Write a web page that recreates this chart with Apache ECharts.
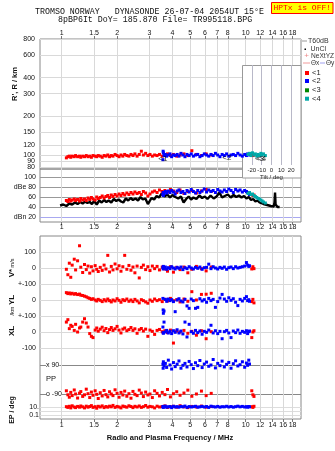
<!DOCTYPE html>
<html><head><meta charset="utf-8">
<script src="https://cdn.jsdelivr.net/npm/echarts@6/dist/echarts.min.js"></script>
<style>html,body{margin:0;padding:0;background:#fff}#c{width:335px;height:451px}</style>
</head><body><div id="c"></div>
<script>
// ---------- tick labels ----------
const freqTicks = [1,1.5,2,3,4,5,6,7,8,10,12,14,16,18];
const freqTickLabels = ['1','1.5','2','3','4','5','6','7','8','10','12','14','16','18'];
const rangeTicks = [80,90,100,120,150,200,300,400,600,800];
const rangeTickLabels = ['80','90','100','120','150','200','300','400','600','800'];
const ampTicks = [20,40,60,80,100];
const ampTickLabels = ['dBn 20','40','60','dBe 80','100'];
const vTicks = [-100,0,100];
const vTickLabels = ['+-100','0','100'];
const ylTickLabels = ['+-100','0',''];
const xlTickLabels = ['-100','0',''];
const ppTicks = [-90,90];
const ppTickLabels = ['o -90','x 90'];
const epTicks = [0.1,1,10];
const epTickLabels = ['0.1','','10.'];
const tiltTicks = [-20,-10,0,10,20];

// ---------- echo class <1 (red) ----------
const fRed = [1.06,1.08,1.10,1.12,1.14,1.17,1.19,1.22,1.25,1.27,1.30,1.33,1.36,1.39,1.42,1.45,1.48,1.52,1.55,1.58,1.62,1.66,1.70,1.74,1.78,1.82,1.86,1.90,1.95,2.00,2.05,2.10,2.15,2.20,2.26,2.32,2.38,2.44,2.50,2.57,2.64,2.71,2.78,2.86,2.94,3.02,3.11,3.20,3.30,3.40,3.52,3.64,3.76,3.90,4.05,4.22,4.40,4.62,4.85,5.10,5.40,5.75,6.10,6.50,10.8,10.95,11.1];
const rRed = [95,97,98,96,98,97,99,97,98,96,98,97,99,97,98,96,99,98,97,99,98,96,99,98,100,97,99,98,101,99,97,100,98,101,99,98,101,99,102,98,101,107,100,103,99,101,98,100,99,101,98,100,102,99,101,98,100,102,99,108,101,99,102,100,101,99,100];
const aRed = [54,52,56,53,55,57,54,56,53,58,55,57,54,59,56,60,57,55,61,58,60,63,59,62,64,60,65,62,66,63,67,64,68,65,69,66,70,67,71,68,70,66,72,69,63,67,71,73,70,75,72,74,71,76,73,70,75,68,72,74,69,73,76,72,66,64,65];
const vRed = [-8,-42,30,-58,18,55,-12,45,139,5,-28,22,-10,12,-32,8,-18,15,-8,-22,4,-15,18,-6,79,-25,10,-12,25,-5,14,-20,8,79,-8,16,-14,6,-30,12,-62,4,18,-10,8,-16,12,-4,10,-12,6,-6,-20,8,-26,4,-10,6,-30,-8,10,-4,-18,6,-6,8,-4];
const ylRed = [46,40,44,38,42,36,40,34,37,30,28,24,20,14,10,4,8,0,-6,4,-2,-10,2,-6,6,-4,-12,0,-6,8,-2,-14,2,-4,6,-8,0,-10,4,-6,-18,2,-4,-12,-20,0,-8,6,-4,2,-10,4,-6,10,-4,2,-12,6,-8,52,0,35,36,42,-10,4,-18];
const xlRed = [62,77,21,42,35,10,48,0,25,31,62,83,56,31,-10,-27,-35,12,25,5,18,30,8,22,-4,15,28,10,20,35,12,-6,18,25,8,15,28,10,20,-8,14,22,6,18,-27,12,4,-15,10,16,2,8,-4,12,-69,6,0,10,-8,4,-20,8,-42,2,-35,0,8];
const ppRed = [-70,-95,-110,-80,-100,-65,-90,-115,-85,-75,-105,-95,-60,-88,-112,-78,-98,-70,-92,-118,-82,-102,-68,-94,-108,-76,-90,-100,-64,-86,-110,-80,-96,-72,-104,-88,-116,-74,-92,-100,-66,-84,-106,-78,-96,-90,-112,-70,-86,-102,-80,-94,-62,-108,-88,-76,-98,-84,-66,-104,-90,-72,-100,-86,-70,-95,-105];
const epRed = [12,8,15,6,20,10,7,14,9,18,11,6,16,9,13,22,8,12,5,15,10,19,7,13,9,16,11,25,8,14,10,6,17,12,9,20,13,7,15,10,18,8,12,24,9,14,11,6,16,10,13,19,8,12,15,9,21,11,7,14,10,17,9,13,12,8,15];

// ---------- echo class <2 (blue) ----------
const fBlue = [3.55,3.56,3.57,3.60,3.66,3.72,3.80,3.88,3.96,4.05,4.14,4.24,4.34,4.45,4.56,4.68,4.80,4.93,5.06,5.20,5.34,5.49,5.64,5.80,5.96,6.13,6.30,6.48,6.66,6.85,7.05,7.25,7.45,7.66,7.88,8.10,8.33,8.57,8.82,9.07,9.33,9.60,9.88,10.1,10.25,10.4,10.5];
const rBlue = [92,107,104,99,101,98,100,102,97,100,99,101,98,103,100,97,101,99,102,98,100,101,97,99,102,100,98,101,99,103,100,97,101,99,102,98,100,101,99,103,100,98,101,99,102,100,101];
const aBlue = [66,70,64,68,72,69,73,70,74,71,67,73,75,70,72,68,74,71,76,72,69,74,70,73,77,71,75,72,74,70,76,73,71,75,72,77,74,70,76,73,75,71,74,72,70,68,66];
const vBlue = [4,-6,10,-2,6,-8,2,-4,8,0,-6,4,-2,6,-10,2,-4,8,0,-6,4,-2,6,-8,2,4,24,-4,8,0,-6,4,-2,6,-8,2,6,-4,8,0,4,8,12,34,18,10,14];
const ylBlue = [10,-62,-83,-69,4,-8,6,-4,2,-10,-73,0,8,-6,-12,4,-37,-52,6,-4,-52,-46,8,-6,2,-14,10,-4,4,-46,-10,12,35,6,-8,14,-2,8,-14,-35,4,-6,10,21,-4,2,-8];
const xlBlue = [31,-4,-8,62,0,10,-6,4,-10,8,-2,14,-6,6,-12,62,-31,48,2,-8,10,-4,6,-14,4,-2,12,42,-6,8,-10,4,-42,2,10,-6,-35,6,-4,12,-8,4,-2,8,-10,2,6];
const ppBlue = [95,70,110,85,100,75,120,90,65,105,80,95,115,70,88,100,78,112,92,68,104,86,118,74,96,108,82,90,124,72,100,86,114,78,94,106,70,98,116,84,92,110,76,102,88,120,96];
const epBlue = [10,14,8,12,16,9,11,13,7,15,10,12,9,14,11,17,8,13,10,12,15,9,11,14,10,13,8,16,12,10,14,9,12,11,15,10,13,9,12,16,11,14,10,12,9,13,11];

// ---------- echo class <4 (teal) ----------
const fTeal = [10.3,10.5,10.7,10.9,11.1,11.3,11.5,11.7,11.9,12.1,12.3,12.5,12.8];
const rTeal = [101,103,99,104,100,102,98,101,99,103,100,102,99];
const aTeal = [68,70,66,67,64,62,60,58,57,55,53,51,49];

// ---------- total amplitude trace (black) ----------
const ampF = [0.98,1.02,1.06,1.10,1.14,1.18,1.22,1.26,1.30,1.34,1.38,1.42,1.46,1.50,1.55,1.60,1.65,1.70,1.75,1.80,1.86,1.92,1.98,2.04,2.10,2.16,2.23,2.30,2.37,2.44,2.52,2.60,2.68,2.76,2.85,2.94,3.00,3.08,3.18,3.28,3.38,3.50,3.62,3.75,3.88,4.00,4.15,4.30,4.45,4.60,4.75,4.90,5.05,5.20,5.40,5.60,5.80,6.00,6.20,6.45,6.70,6.95,7.20,7.45,7.70,8.00,8.30,8.60,8.90,9.20,9.50,9.80,10.1,10.4,10.7,11.0,11.3,11.6,11.9,12.2,12.5,12.8,13.1,13.4,13.7,14.0,14.2,14.35,14.45,14.55,14.7,14.9,15.1,15.3];
const ampDb = [44,46,43,48,46,50,47,51,48,52,49,51,47,53,46,54,50,55,51,54,50,57,53,56,52,50,58,54,59,55,58,54,61,56,58,47,52,59,56,63,60,68,62,66,60,65,61,58,62,50,57,62,56,60,57,64,59,62,57,64,58,62,70,60,63,66,60,65,61,64,60,63,58,61,55,57,52,54,50,51,47,48,45,46,43,45,42,50,70,46,42,41,41,41];

// ---------- echo-class tags in range panel ----------
const tagF = [3.55,7.9,11.9,12.2];
const tagR = [93,94.5,94,94];
const tagText = ['<1','<2','<3','<4'];

// ---------- build ----------
const lg = Math.log10;
const FMIN = 0.762, FMAX = 20, RMIN = 77.8, RMAX = 800;
const FONT = 'Liberation Sans';
const RED = '#ff0000', BLUE = '#0000ff', TEAL = '#00a8a8', GREEN = '#008800';
const fT = freqTicks.map(lg), rT = rangeTicks.map(lg), eT = epTicks.map(lg);
// crowded range labels (90) are placed separately through the axis scale
const rCrowded = [90];
const rLabelT = rangeTicks.filter(t => rCrowded.indexOf(t) < 0).map(lg);
function fmt(vals, labels){ return function(v){ for (let i=0;i<vals.length;i++){ if (Math.abs(vals[i]-v)<1e-7) return labels[i]; } return ''; }; }
function pts(f, v, tf){ return f.map((x,i)=>[lg(x), tf ? tf(v[i]) : v[i]]); }
function sc(xi, data, color){ return {type:'scatter', xAxisIndex:xi, yAxisIndex:xi, data, symbol:'rect', symbolSize:3, itemStyle:{color, opacity:1}, clip:false, silent:true, z:3}; }

const gridDefs = [
 {left:40, top:39, width:261, height:130, show:true},
 {left:40, top:169, width:261, height:53, show:true},
 {left:40, top:236, width:261, height:183, show:true},
 {left:40, top:252, width:261, height:32},
 {left:40, top:284, width:261, height:32},
 {left:40, top:316, width:261, height:32},
 {left:40, top:365, width:261, height:29},
 {left:40, top:407, width:261, height:8},
 {left:242, top:65, width:59, height:100}
];
const lblStyle = {fontSize:7, color:'#111', fontFamily:FONT};
function freqAxis(gi, pos, margin){
  return {type:'value', gridIndex:gi, min:lg(FMIN), max:lg(FMAX), position:pos,
    axisLine:{show:false},
    axisTick:{show:true, length:3, customValues:fT, lineStyle:{color:'#777'}},
    axisLabel:Object.assign({customValues:fT, formatter:fmt(fT,freqTickLabels), margin, hideOverlap:false}, lblStyle),
    splitLine:{show:true, lineStyle:{color:'#d9d9d9', width:1}}};
}
function hidX(gi){ return {type:'value', gridIndex:gi, min:lg(FMIN), max:lg(FMAX), show:false}; }
function yAx(gi, min, max, ticks, labels, extra, splitColor){
  return Object.assign({type:'value', gridIndex:gi, min, max,
    axisLine:{show:false}, axisTick:{show:false, customValues:ticks},
    axisLabel:Object.assign({customValues:ticks, formatter:fmt(ticks,labels), margin:4, showMinLabel:true, showMaxLabel:true, hideOverlap:false}, lblStyle),
    splitLine:{show:true, lineStyle:{color:splitColor||'#d9d9d9', width:1}}}, extra||{});
}

const yAxes = [
  yAx(0, lg(RMIN), lg(RMAX), rT, rangeTickLabels),
  yAx(1, 11, 117, ampTicks, ampTickLabels, null, ['#a8a8f0','#999','#999','#999','#999']),
  {type:'value', gridIndex:2, min:0, max:1, show:false},
  yAx(3, -100, 100, vTicks, vTickLabels),
  yAx(4, -100, 100, vTicks, ylTickLabels),
  yAx(5, -100, 100, vTicks, xlTickLabels),
  yAx(6, -90, 90, ppTicks, ppTickLabels, null, '#888'),
  yAx(7, -1, 1, eT, epTickLabels, null, '#dddddd'),
  {type:'value', gridIndex:8, min:0, max:1, show:false}
];
yAxes[0].axisLabel.margin = 5;
yAxes[0].axisLabel.customValues = rLabelT;
yAxes[6].axisLabel.inside = true;
yAxes[6].axisLabel.margin = 6;
yAxes[6].axisLabel.backgroundColor = '#fff';
yAxes[7].axisLabel.margin = 1;

const tiltAxis = {type:'value', gridIndex:8, min:-30, max:30, position:'bottom', z:2,
  axisLine:{show:false}, axisTick:{show:false, customValues:tiltTicks},
  axisLabel:{customValues:tiltTicks, formatter:v=>String(v), margin:2, fontSize:6, color:'#222', fontFamily:FONT},
  splitLine:{show:true, lineStyle:{color:'#b8b8c8'}},
  name:'Tilt / deg', nameLocation:'middle', nameGap:9, nameTextStyle:{fontSize:6, color:'#222', fontFamily:FONT}};

function txt(x, y, text, o){
  o = o || {};
  return {type:'text', x, y, rotation:o.rot||0, z:o.z||5,
    style:{text, fill:o.color||'#111', fontSize:o.size||8, fontFamily:o.family||FONT, fontWeight:o.weight||'normal',
      align:o.align||'left', textAlign:o.align||'left', verticalAlign:'middle', textVerticalAlign:'middle'}};
}
const R90 = Math.PI/2;
const graphics = [
  txt(35, 12, 'TROMSO NORWAY   DYNASONDE 26-07-04 2054UT 15°E', {family:'Liberation Mono', size:8.3}),
  txt(58, 19.7, '8pBP6It DoY= 185.870 File= TR995118.BPG', {family:'Liberation Mono', size:8.3}),
  {type:'rect', shape:{x:271.5, y:2.5, width:61.5, height:11}, style:{fill:'#ffff00', stroke:'#ff0000', lineWidth:1}, z:4},
  txt(302.25, 8.2, 'HPTx is OFF!', {family:'Liberation Mono', size:8, color:'#ff0000', align:'center'}),
  {type:'rect', shape:{x:242.5, y:65.5, width:58.5, height:112.5}, style:{fill:'#ffffff', stroke:'#999999', lineWidth:1}, z:1},
  // legend
  {type:'line', shape:{x1:302, y1:41, x2:307, y2:41}, style:{stroke:'#999', lineWidth:1}, z:4},
  txt(308, 41, 'T60dB', {size:7, color:'#333'}),
  {type:'rect', shape:{x:304.5, y:48.5, width:1.5, height:1.5}, style:{fill:'#000'}, z:4},
  txt(310.5, 49, 'UnCl', {size:7, color:'#333'}),
  txt(306.5, 56, '+', {size:8, color:'#ee8888', align:'center'}),
  txt(311, 56, 'NeXtYZ', {size:6.6, color:'#333'}),
  {type:'line', shape:{x1:303, y1:63, x2:310, y2:63}, style:{stroke:'#f09a9a', lineWidth:1}, z:4},
  txt(311, 63, 'Θx', {size:6.5, color:'#333'}),
  {type:'line', shape:{x1:320, y1:63, x2:325, y2:63}, style:{stroke:'#a0a0f0', lineWidth:1}, z:4},
  txt(326, 63, 'Θy', {size:6.5, color:'#333'}),
  {type:'rect', shape:{x:305, y:71, width:4, height:4}, style:{fill:RED}, z:4},
  txt(312, 73, '<1', {size:7.5, color:'#222'}),
  {type:'rect', shape:{x:305, y:79, width:4, height:4}, style:{fill:BLUE}, z:4},
  txt(312, 81, '<2', {size:7.5, color:'#222'}),
  {type:'rect', shape:{x:305, y:88.3, width:4, height:4}, style:{fill:GREEN}, z:4},
  txt(312, 90.3, '<3', {size:7.5, color:'#222'}),
  {type:'rect', shape:{x:305, y:96.7, width:4, height:4}, style:{fill:TEAL}, z:4},
  txt(312, 98.7, '<4', {size:7.5, color:'#222'}),
  // axis titles
  txt(15, 84, "R', R / km", {rot:R90, align:'center', weight:'bold', size:7.5}),
  txt(12, 273, 'V*', {rot:R90, align:'center', weight:'bold', size:8}),
  txt(12, 263, 'm/s', {rot:R90, align:'center', size:5.5}),
  txt(12, 300, 'YL', {rot:R90, align:'center', weight:'bold', size:8}),
  txt(12, 311, '/km', {rot:R90, align:'center', size:5.5}),
  txt(12, 331, 'XL', {rot:R90, align:'center', weight:'bold', size:8}),
  txt(12, 410, 'EP / deg', {rot:R90, align:'center', weight:'bold', size:7}),
  txt(46, 379, 'PP', {size:7.5}),
  txt(170, 438, 'Radio and Plasma Frequency / MHz', {align:'center', size:7.5, weight:'bold'})
];

const series = [
  // range panel
  sc(0, pts(fRed, rRed, lg), RED),
  sc(0, pts(fBlue, rBlue, lg), BLUE),
  sc(0, pts(fTeal, rTeal, lg), TEAL),
  {type:'scatter', xAxisIndex:0, yAxisIndex:0, data:tagF.map((f,i)=>({value:[lg(f), lg(tagR[i])], label:{formatter:tagText[i]}})),
   symbolSize:1, itemStyle:{color:'rgba(0,0,0,0)'}, clip:false, silent:true, z:4,
   label:{show:true, position:'inside', fontSize:8, color:'#000', fontFamily:FONT}},
  // amplitude panel
  {type:'line', xAxisIndex:1, yAxisIndex:1, data:pts(ampF, ampDb), showSymbol:false, symbol:'none',
   lineStyle:{color:'#000', width:2.4}, silent:true, z:2},
  sc(1, pts(fRed, aRed), RED),
  sc(1, pts(fBlue, aBlue), BLUE),
  sc(1, pts(fTeal, aTeal), TEAL),
  // V*, YL, XL, PP, EP
  sc(3, pts(fRed, vRed), RED), sc(3, pts(fBlue, vBlue), BLUE),
  sc(4, pts(fRed, ylRed), RED), sc(4, pts(fBlue, ylBlue), BLUE),
  sc(5, pts(fRed, xlRed), RED), sc(5, pts(fBlue, xlBlue), BLUE),
  sc(6, pts(fRed, ppRed), RED), sc(6, pts(fBlue, ppBlue), BLUE),
  sc(7, pts(fRed, epRed, lg), RED), sc(7, pts(fBlue, epBlue, lg), BLUE)
];

const chart = echarts.init(document.getElementById('c'), null, {renderer:'canvas', width:335, height:451});
const option = {
  animation:false,
  backgroundColor:'#ffffff',
  grid: gridDefs.map(g => Object.assign({borderColor:'#888', borderWidth:1, backgroundColor:'transparent', containLabel:false, outerBoundsMode:'none'}, g)),
  xAxis: [freqAxis(0,'top',2), freqAxis(1,'bottom',2), freqAxis(2,'bottom',3), hidX(3), hidX(4), hidX(5), hidX(6), hidX(7), tiltAxis],
  yAxis: yAxes,
  graphic: graphics,
  series
};
chart.setOption(option);
// place crowded range tick labels using the axis scale
const extra = rCrowded.map(t => {
  const p = chart.convertToPixel({gridIndex:0}, [lg(1), lg(t)]);
  return txt(35, p[1], String(t), {align:'right', size:7});
});
chart.setOption({graphic: graphics.concat(extra)});
</script></body></html>
